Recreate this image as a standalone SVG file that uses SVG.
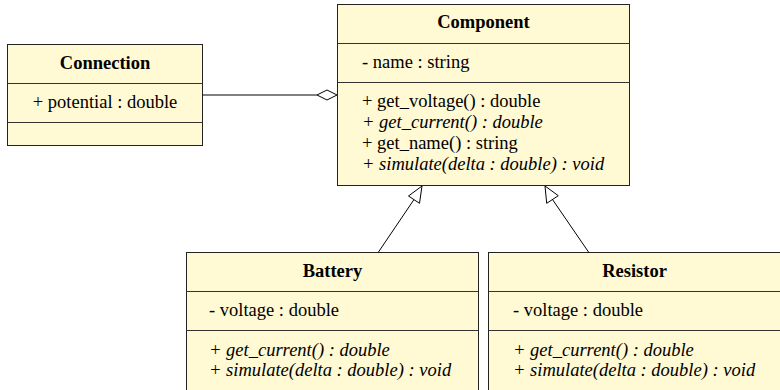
<svg xmlns="http://www.w3.org/2000/svg" width="780" height="390" viewBox="0 0 780 390" font-family="Liberation Serif, serif">
<style>
.box{fill:#fff9d4;stroke:#222;stroke-width:1}
.div{stroke:#333;stroke-width:1}
text{font-family:"Liberation Serif","Times New Roman",serif;font-size:18.5px;fill:#000}
.title{font-weight:bold;text-anchor:middle}
.it{font-style:italic}
.c{text-anchor:middle}
.edge{stroke:#000;stroke-width:1;fill:none}
.head{fill:#fff;stroke:#000;stroke-width:1}
</style>
<rect width="780" height="390" fill="#fff"/>
<g id="Connection">
<rect class="box" x="7.5" y="44.5" width="195" height="101"/>
<line class="div" x1="7.5" y1="83.5" x2="202.5" y2="83.5"/>
<line class="div" x1="7.5" y1="122.5" x2="202.5" y2="122.5"/>
<text class="title" x="105" y="69">Connection</text>
<text class="c" x="105" y="108">+ potential : double</text>
</g>
<g id="Component">
<rect class="box" x="337.5" y="4.5" width="292" height="181"/>
<line class="div" x1="337.5" y1="43.5" x2="629.5" y2="43.5"/>
<line class="div" x1="337.5" y1="82.5" x2="629.5" y2="82.5"/>
<text class="title" x="483.5" y="27.5">Component</text>
<text x="362" y="67.5">- name : string</text>
<text x="362" y="106.5">+ get_voltage() : double</text>
<text class="it" x="362" y="127.5">+ get_current() : double</text>
<text x="362" y="148.5">+ get_name() : string</text>
<text class="it" x="362" y="169.5">+ simulate(delta : double) : void</text>
</g>
<g id="Battery">
<rect class="box" x="186.5" y="252.5" width="292" height="150"/>
<line class="div" x1="186.5" y1="291.5" x2="478.5" y2="291.5"/>
<line class="div" x1="186.5" y1="330.5" x2="478.5" y2="330.5"/>
<text class="title" x="332.5" y="277">Battery</text>
<text x="209" y="316">- voltage : double</text>
<text class="it" x="209" y="355.5">+ get_current() : double</text>
<text class="it" x="209" y="375.5">+ simulate(delta : double) : void</text>
</g>
<g id="Resistor">
<rect class="box" x="488.5" y="252.5" width="292" height="150"/>
<line class="div" x1="488.5" y1="291.5" x2="780.5" y2="291.5"/>
<line class="div" x1="488.5" y1="330.5" x2="780.5" y2="330.5"/>
<text class="title" x="634.5" y="277">Resistor</text>
<text x="513" y="316">- voltage : double</text>
<text class="it" x="513" y="355.5">+ get_current() : double</text>
<text class="it" x="513" y="375.5">+ simulate(delta : double) : void</text>
</g>
<g id="connectors">
<line class="edge" x1="202.5" y1="95" x2="317" y2="95"/>
<polygon class="head" points="317,95 327,90 337,95 327,100"/>
<line class="edge" x1="378.5" y1="252" x2="414" y2="199.5"/>
<polygon class="head" points="422,186 408.5,196 419.5,203.3"/>
<line class="edge" x1="588.5" y1="252" x2="552.5" y2="199.5"/>
<polygon class="head" points="545,186 546.7,203.3 558.3,195.7"/>
</g>
</svg>
